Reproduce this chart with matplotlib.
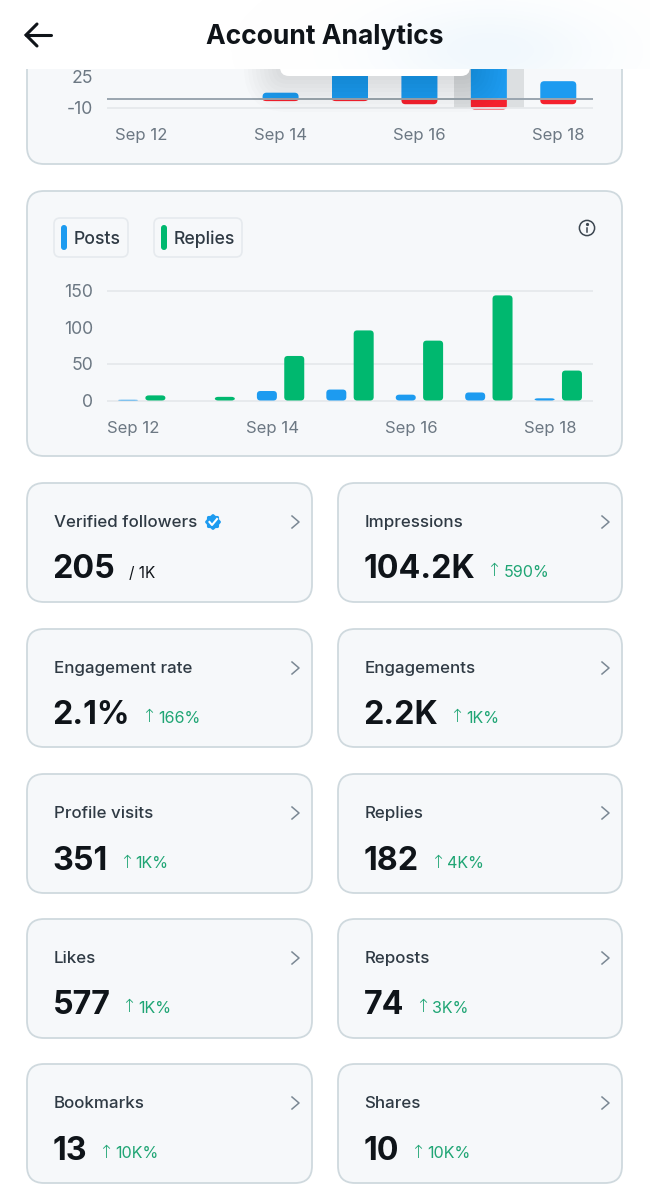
import numpy as np
import matplotlib
matplotlib.use("Agg")
import matplotlib.pyplot as plt
from matplotlib.patches import FancyBboxPatch, PathPatch, Circle, Rectangle
from matplotlib.path import Path
from matplotlib.colors import LinearSegmentedColormap

# top chart (scrolled under the header)
top_days = ["Sep 12", "Sep 13", "Sep 14", "Sep 15", "Sep 16", "Sep 17", "Sep 18"]
top_pos = [0, 0, 7, 60, 55, 70, 20]
top_neg = [0, 0, -2.5, -2.5, -6, -12, -6]
top_ticks = [-10, 25]
top_labels = ["-10", "25"]

# posts / replies chart
posts = [1, 0, 13, 15, 8, 11, 3]
replies = [7, 5, 61, 96, 82, 144, 41]
mid_ticks = [0, 50, 100, 150]
mid_grid = [0, 50, 150]

# metric cards
card_titles = ["Verified followers", "Impressions", "Engagement rate", "Engagements",
               "Profile visits", "Replies", "Likes", "Reposts", "Bookmarks", "Shares"]
card_values = ["205", "104.2K", "2.1%", "2.2K", "351", "182", "577", "74", "13", "10"]
card_changes = ["/ 1K", "590%", "166%", "1K%", "1K%", "4K%", "1K%", "3K%", "10K%", "10K%"]

BLUE = "#1d9bf0"
GREEN = "#00b86f"
RED = "#f4212e"
BORDER = "#cfd9de"
CARD = "#f6f8fa"
TICK = "#6c7883"
FONT = ["Inter", "DejaVu Sans"]
plt.rcParams["font.family"] = FONT

W, H = 650, 1200
fig = plt.figure(figsize=(6.5, 12), dpi=100, facecolor="white")


def px_axes(x0, y0, x1, y1, z):
    a = fig.add_axes([x0 / W, 1 - y1 / H, (x1 - x0) / W, (y1 - y0) / H], zorder=z)
    a.patch.set_alpha(0)
    return a


def card(a, x0, y0, x1, y1, r=17, face=CARD, edge=BORDER, lw=1.3):
    a.add_patch(FancyBboxPatch((x0, y0), x1 - x0, y1 - y0, boxstyle=f"round,pad=0,rounding_size={r}",
                               fc=face, ec=edge, lw=lw))


def rbar(a, xc, w, y0, y1, rx, ry, color, both=False):
    # bar with rounded corners at the y1 end (and the y0 end too if both)
    x0, x1 = xc - w / 2, xc + w / 2
    s = 1 if y1 >= y0 else -1
    ry = min(ry, abs(y1 - y0) / (2 if both else 1)) * s
    if both:
        v = [(x0, y0 + ry), (x0, y1 - ry), (x0, y1), (x0 + rx, y1), (x1 - rx, y1), (x1, y1), (x1, y1 - ry),
             (x1, y0 + ry), (x1, y0), (x1 - rx, y0), (x0 + rx, y0), (x0, y0), (x0, y0 + ry)]
        c = [Path.MOVETO, Path.LINETO, Path.CURVE3, Path.CURVE3, Path.LINETO, Path.CURVE3, Path.CURVE3,
             Path.LINETO, Path.CURVE3, Path.CURVE3, Path.LINETO, Path.CURVE3, Path.CURVE3]
    else:
        v = [(x0, y0), (x0, y1 - ry), (x0, y1), (x0 + rx, y1), (x1 - rx, y1), (x1, y1), (x1, y1 - ry),
             (x1, y0), (x0, y0)]
        c = [Path.MOVETO, Path.LINETO, Path.CURVE3, Path.CURVE3, Path.LINETO, Path.CURVE3, Path.CURVE3,
             Path.LINETO, Path.CLOSEPOLY]
    a.add_patch(PathPatch(Path(v, c), fc=color, ec="none"))


def clean(a):
    for s in a.spines.values():
        s.set_visible(False)
    a.tick_params(length=0, labelcolor=TICK, labelsize=12)
    a.tick_params(axis="y", labelsize=12.7)


# background layer: cards
bg = px_axes(0, 0, W, H, 0)
bg.set_xlim(0, W)
bg.set_ylim(H, 0)
bg.axis("off")
card(bg, 27, 20, 622, 164)
card(bg, 27, 191, 622, 456)

rows = [(483, 602), (629, 747), (774, 893), (919, 1038), (1064, 1183)]
cols = [(27, 312), (338, 622)]
fig.canvas.draw()
rend = fig.canvas.get_renderer()
for i, (name, val, chg) in enumerate(zip(card_titles, card_values, card_changes)):
    x0, x1 = cols[i % 2]
    y0, y1 = rows[i // 2]
    card(bg, x0, y0, x1, y1)
    bg.text(x0 + 26.5, y0 + 39.8, name, fontsize=12.2, color="#2f3a44", va="center", weight="medium")
    tv = bg.text(x0 + 25.5, y0 + 87, val, fontsize=23.2, color="#0f1419", va="center", weight="bold")
    end = tv.get_window_extent(rend).x1
    if i == 0:
        bg.text(end + 14, y0 + 90, chg, fontsize=11, color="#0f1419", va="center")
    else:
        bg.text(end + 11, y0 + 88.5, "↑", fontsize=13, color="#1fa574", va="center",
                family="DejaVu Sans", weight="light")
        bg.text(end + 28, y0 + 89.5, chg, fontsize=11.6, color="#1fa574", va="center")
    bg.plot([x1 - 20, x1 - 13, x1 - 20], [y0 + 33, y0 + 39, y0 + 45], color="#7b8894", lw=1.1)

# verified badge
theta = np.linspace(0, 2 * np.pi, 120)
rad = 7.3 + 0.6 * np.cos(8 * theta)
bg.fill(213 + rad * np.cos(theta), 522 + rad * np.sin(theta), color=BLUE, lw=0)
bg.plot([209.5, 212, 217], [522, 525, 519], color="white", lw=1.5)

# legend chips
for x0, x1, label, col in [(54, 128, "Posts", BLUE), (154, 242, "Replies", GREEN)]:
    card(bg, x0, 218, x1, 257, r=6, face=CARD, edge="#e6eaee", lw=1.2)
    bg.add_patch(FancyBboxPatch((x0 + 7, 225), 6, 25, boxstyle="round,pad=0,rounding_size=3", fc=col, ec="none"))
    bg.text(x0 + 20, 239, label, fontsize=12.7, color="#2f3a44", va="center", weight="medium")

# info icon
bg.add_patch(Circle((587, 228), 7.6, fc="none", ec="#3c4650", lw=1.1))
bg.plot([587, 587], [227.5, 232], color="#3c4650", lw=1.1)
bg.plot([587], [224.3], "o", color="#3c4650", ms=1.3)

# top chart
a1 = px_axes(107, 60, 593, 110, 1)
px1 = 486 / 7
yscale1 = 0.886
a1.set_xlim(-0.5, 6.5)
a1.set_ylim((98.9 - 110) / yscale1, (98.9 - 60) / yscale1)
a1.axvspan(4.5, 5.5, ymin=0.04, color="#dcdfe1", lw=0)
a1.axhline(-10, color="#e6e9ec", lw=1.3)
w1 = 36 / px1
for i in range(len(top_days)):
    if top_pos[i]:
        rbar(a1, i, w1, 0, top_pos[i], 4 / px1, 4 / yscale1, BLUE)
        rbar(a1, i, w1, 0, top_neg[i], 4 / px1, 4 / yscale1, RED)
a1.axhline(0, color="#9aa5af", lw=1.4)
clean(a1)
a1.set_yticks(top_ticks, top_labels)
a1.set_xticks(range(0, 7, 2), top_days[::2])
a1.tick_params(axis="y", pad=10)
a1.tick_params(axis="x", pad=13.2)

# posts / replies chart
a2 = px_axes(107, 280, 593, 402, 1)
yscale2 = 0.73
a2.set_xlim(-0.5, 6.5)
a2.set_ylim((400.5 - 402) / yscale2, (400.5 - 280) / yscale2)
for g in mid_grid:
    a2.axhline(g, color="#e6e9ec", lw=1.3, zorder=0)
w2 = 20 / px1
for i in range(len(posts)):
    if posts[i]:
        rbar(a2, i - 0.197, w2, 0, posts[i], 3.5 / px1, 3.5 / yscale2, BLUE, both=True)
    rbar(a2, i + 0.197, w2, 0, replies[i], 3.5 / px1, 3.5 / yscale2, GREEN, both=True)
clean(a2)
a2.set_yticks(mid_ticks, [str(t) for t in mid_ticks])
a2.set_xticks(np.arange(0, 7, 2) - 0.12, top_days[::2])
a2.tick_params(axis="y", pad=10)
a2.tick_params(axis="x", pad=13.5)

# header, tooltip and shadow above the top chart
fg = px_axes(0, 0, W, H, 2)
fg.set_xlim(0, W)
fg.set_ylim(H, 0)
fg.axis("off")
for k in range(9):
    g = 36 - k * 4
    fg.add_patch(FancyBboxPatch((280 - g, 40 - g), 190 + 2 * g, 36 + 2 * g,
                                boxstyle=f"round,pad=0,rounding_size={g + 8}", fc="black", ec="none", alpha=0.011))
fg.add_patch(FancyBboxPatch((280, 40), 190, 36, boxstyle="round,pad=0,rounding_size=9", fc="white", ec="none"))
fg.add_patch(Rectangle((0, 0), W, 69, fc="white", ec="none"))
yy, xx = np.mgrid[0:69, 0:W]
glow = np.exp(-(((xx - 490) / 110.0) ** 2 + ((yy - 50) / 45.0) ** 2))
cmap = LinearSegmentedColormap.from_list("g", ["#ffffff", "#f1f8fd"])
fg.imshow(glow, extent=(0, W, 69, 0), cmap=cmap, vmin=0, vmax=1, aspect="auto", zorder=1.5)
fg.set_xlim(0, W)
fg.set_ylim(H, 0)
fg.text(325, 36.5, "Account Analytics", fontsize=19, weight="bold", color="#0f1419", ha="center", va="center", zorder=3)
fg.plot([51, 26], [35, 35], color="#0f1419", lw=2.2, zorder=3, solid_capstyle="round")
fg.plot([37, 26, 37], [24, 35, 46], color="#0f1419", lw=2.2, zorder=3, solid_capstyle="round", solid_joinstyle="miter")

fig.savefig("out.png", dpi=100)
